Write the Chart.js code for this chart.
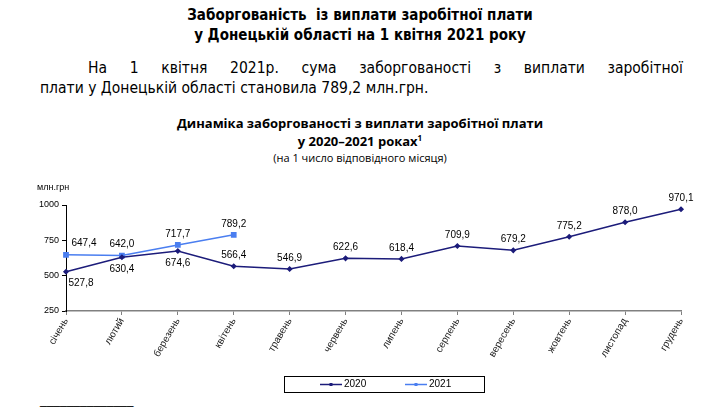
<!DOCTYPE html>
<html>
<head>
<meta charset="utf-8">
<script src="https://cdn.jsdelivr.net/npm/chart.js@4.4.1/dist/chart.umd.min.js"></script>
<style>
  body { margin: 0; background: #fff; width: 710px; height: 410px; overflow: hidden; position: relative; }
  .t { position: absolute; left: 0; width: 720px; text-align: center; color: #000; }
  #head { top: 5px; font: bold 15px "Liberation Sans Narrow", "DejaVu Sans Condensed", sans-serif; line-height: 20px; }
  .para { position: absolute; left: 40px; width: 643px; font: 15.5px "Liberation Sans Narrow", "DejaVu Sans Condensed", sans-serif; line-height: 20px; }
  #p1 { top: 58px; text-align: justify; text-align-last: justify; padding-left: 48px; width: 595px; }
  #p2 { top: 78px; }
  #ctitle { top: 114px; font: bold 13px "Open Sans", sans-serif; line-height: 18px; }
  #ctitle sup { font-size: 8px; vertical-align: 5px; line-height: 0; }
  #csub { top: 150px; font: 11px "Open Sans", sans-serif; }
  #foot { position: absolute; left: 40px; top: 393px; font: 12px "Liberation Sans", sans-serif; }
  #wrap { position: absolute; left: 0; top: 180px; width: 710px; height: 230px; }
</style>
</head>
<body>
<div class="t" id="head">Заборгованість&nbsp; із виплати заробітної плати<br>у Донецькій області на 1 квітня 2021 року</div>
<div class="para" id="p1">На 1 квітня 2021р. сума заборгованості з виплати заробітної</div>
<div class="para" id="p2">плати у Донецькій області становила 789,2 млн.грн.</div>
<div class="t" id="ctitle">Динаміка заборгованості з виплати заробітної плати<br>у 2020–2021 роках<sup>1</sup></div>
<div class="t" id="csub">(на 1 число відповідного місяця)</div>
<div id="foot">______________</div>
<div id="wrap"><canvas id="chart" width="710" height="230"></canvas></div>

<script>
const months = ["січень", "лютий", "березень", "квітень", "травень", "червень",
  "липень", "серпень", "вересень", "жовтень", "листопад", "грудень"];
const debt2020 = [527.8, 630.4, 674.6, 566.4, 546.9, 622.6, 618.4, 709.9, 679.2, 775.2, 878.0, 970.1];
const debt2021 = [647.4, 642.0, 717.7, 789.2];
const yTicks = [250, 500, 750, 1000];

// where each value label sits relative to its point
const place2020 = ["belowRight", "below", "below", "above", "above", "above",
  "above", "above", "above", "above", "above", "above"];
const place2021 = ["aboveRight", "above", "above", "above"];

const fmt = v => v.toFixed(1).replace(".", ",");

const labelsPlugin = {
  id: "valueLabels",
  afterDatasetsDraw(chart) {
    const ctx = chart.ctx;
    ctx.save();
    ctx.font = "10px 'Liberation Sans', Arial, sans-serif";
    ctx.fillStyle = "#000";
    ctx.textAlign = "center";
    ctx.textBaseline = "middle";
    chart.data.datasets.forEach((ds, i) => {
      const meta = chart.getDatasetMeta(i);
      meta.data.forEach((pt, j) => {
        const p = ds.places[j];
        let dx = 0, dy = -11;
        if (p === "below") dy = 12;
        if (p === "belowRight") { dx = 15; dy = 12; }
        if (p === "aboveRight") { dx = 18; dy = -12; }
        ctx.fillText(fmt(ds.data[j]), pt.x + dx, pt.y + dy);
      });
    });
    // units over the y axis
    ctx.font = "9px 'Liberation Sans', Arial, sans-serif";
    ctx.textAlign = "left";
    ctx.fillText("млн.грн", 37, 8);
    ctx.restore();
  }
};

const legendPlugin = {
  id: "boxLegend",
  afterDraw(chart) {
    const ctx = chart.ctx;
    const bx = 284, by = 196, bw = 200, bh = 16;
    ctx.save();
    ctx.strokeStyle = "#000";
    ctx.lineWidth = 1;
    ctx.strokeRect(bx + 0.5, by + 0.5, bw, bh);
    ctx.font = "10px 'Liberation Sans', Arial, sans-serif";
    ctx.textBaseline = "middle";
    ctx.textAlign = "left";
    const starts = [320, 405];
    chart.data.datasets.forEach((ds, i) => {
      const x = starts[i], y = by + bh / 2 + 0.5;
      ctx.strokeStyle = ds.borderColor;
      ctx.lineWidth = 1.5;
      ctx.beginPath();
      ctx.moveTo(x, y);
      ctx.lineTo(x + 22, y);
      ctx.stroke();
      ctx.fillStyle = ds.borderColor;
      ctx.fillRect(x + 9.5, y - 1.5, 3, 3);
      ctx.fillStyle = "#000";
      ctx.fillText(ds.label, x + 24, y);
    });
    ctx.restore();
  }
};

new Chart(document.getElementById("chart"), {
  type: "line",
  data: {
    labels: months,
    datasets: [
      {
        label: "2020",
        data: debt2020,
        places: place2020,
        borderColor: "#1c1c7a",
        backgroundColor: "#1c1c7a",
        borderWidth: 1.5,
        pointStyle: "rectRot",
        pointRadius: 2,
        tension: 0
      },
      {
        label: "2021",
        data: debt2021,
        places: place2021,
        borderColor: "#4a7ef0",
        backgroundColor: "#4a7ef0",
        borderWidth: 1.5,
        pointStyle: "rect",
        pointRadius: 3,
        tension: 0
      }
    ]
  },
  options: {
    responsive: false,
    animation: false,
    layout: { padding: { left: 0, right: 29, top: 25, bottom: 39 } },
    plugins: { legend: { display: false }, tooltip: { enabled: false } },
    scales: {
      x: {
        offset: false,
        afterFit: s => { s.height = 60; },
        grid: { drawOnChartArea: false, drawTicks: true, tickLength: 4, color: "#808080" },
        border: { color: "#808080", width: 1.5 },
        ticks: {
          minRotation: 60, maxRotation: 60, autoSkip: false,
          color: "#222", padding: 1,
          font: { family: "'Liberation Sans', Arial, sans-serif", size: 10 }
        }
      },
      y: {
        min: 250, max: 1000,
        afterFit: s => { s.width = 66; },
        afterBuildTicks: s => { s.ticks = yTicks.map(v => ({ value: v })); },
        grid: { drawOnChartArea: false, drawTicks: true, tickLength: 4, color: "#000" },
        border: { color: "#000", width: 1 },
        ticks: {
          color: "#000", padding: 3,
          callback: v => String(v),
          font: { family: "'Liberation Sans', Arial, sans-serif", size: 9 }
        }
      }
    }
  },
  plugins: [labelsPlugin, legendPlugin]
});
</script>
</body>
</html>
